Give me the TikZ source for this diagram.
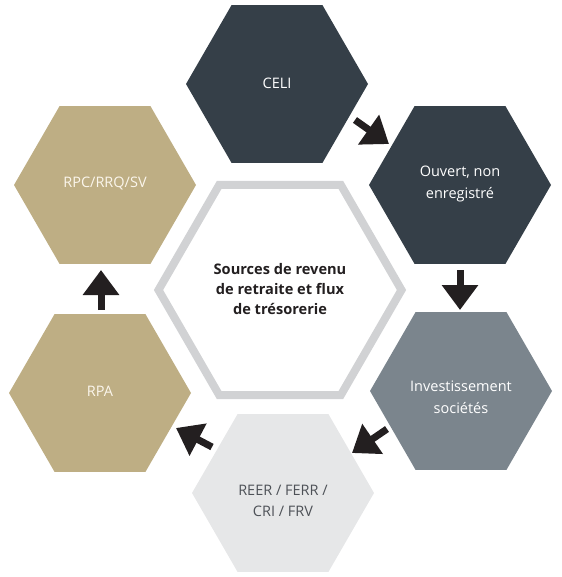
\documentclass[tikz,border=0pt]{standalone}
\usepackage{fontspec}
\setmainfont{Open Sans}
\usetikzlibrary{shapes.geometric,arrows.meta}
\definecolor{slate}{HTML}{353F48}
\definecolor{steel}{HTML}{7B858D}
\definecolor{pale}{HTML}{E6E7E8}
\definecolor{paletext}{HTML}{4D5157}
\definecolor{gold}{HTML}{BEAE84}
\definecolor{cream}{HTML}{FBF6EC}
\definecolor{ring}{HTML}{D1D2D4}
\definecolor{arrowc}{HTML}{231F20}
\begin{document}
\begin{tikzpicture}[x=1pt,y=-1pt,
  hexa/.style={regular polygon, regular polygon sides=6, minimum size=182pt, inner sep=0pt, draw=none},
  lbl/.style={align=center, inner sep=0pt, font=\fontsize{14.5}{21.5}\selectfont},
  flow/.style={line width=7pt, draw=arrowc, -{Triangle[length=25pt,width=35pt]}}]
\useasboundingbox (0,0) rectangle (561,577);
% centre
\node[regular polygon, regular polygon sides=6, minimum size=243pt, inner sep=0pt,
      draw=ring, line width=8pt, fill=white] (mid) at (280,290) {};
\node[lbl, font=\fontsize{14.6}{20}\selectfont\bfseries, text=arrowc] (midT) at (280,289)
  {Sources de revenu\\de retraite et flux\\de trésorerie};
% outer hexagons
\node[hexa, fill=slate] (celi) at (277,84) {};
\node[lbl, text=white] (celiT) at (277,83) {CELI};
\node[hexa, fill=slate] (ouv) at (460,185) {};
\node[lbl, text=white] (ouvT) at (460,184) {Ouvert, non\\enregistré};
\node[hexa, fill=steel] (inv) at (461,391) {};
\node[lbl, text=white] (invT) at (461,397) {Investissement\\sociétés};
\node[hexa, fill=pale] (reer) at (283,493) {};
\node[lbl, text=paletext] (reerT) at (283,501) {REER / FERR /\\CRI / FRV};
\node[hexa, fill=gold] (rpa) at (100,393) {};
\node[lbl, text=cream] (rpaT) at (100,391) {RPA};
\node[hexa, fill=gold] (rpc) at (105,185) {};
\node[lbl, text=cream] (rpcT) at (105,183) {RPC/RRQ/SV};
% arrow end points
\coordinate (a1s) at (355,120); \coordinate (a1e) at (389,144);
\coordinate (a2s) at (460,270); \coordinate (a2e) at (460,310);
\coordinate (a3s) at (387,429); \coordinate (a3e) at (352,453);
\coordinate (a4s) at (212,447); \coordinate (a4e) at (176,428);
\coordinate (a5s) at (101,310); \coordinate (a5e) at (101,270);
\draw[flow] (a1s) -- (a1e);
\draw[flow] (a2s) -- (a2e);
\draw[flow] (a3s) -- (a3e);
\draw[flow] (a4s) -- (a4e);
\draw[flow] (a5s) -- (a5e);
\end{tikzpicture}
\end{document}
